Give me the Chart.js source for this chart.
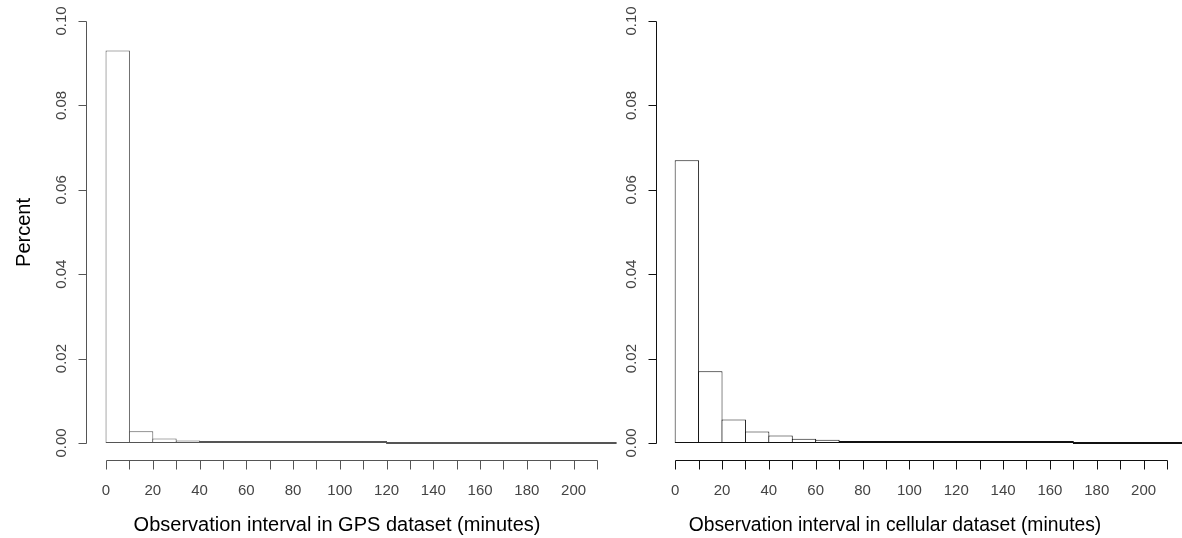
<!DOCTYPE html>
<html>
<head>
<meta charset="utf-8">
<script src="https://cdn.jsdelivr.net/npm/chart.js@4.4.0/dist/chart.umd.min.js"></script>
<style>
    body {
        margin: 0;
        width: 1182px;
        height: 538px;
        overflow: hidden;
        background: #ffffff;
        position: relative;
    }
    canvas {
        position: absolute;
        top: 0;
    }
</style>
</head>
<body>
<canvas id="gps_Chart" width="620" height="538" style="left:0px"></canvas>
<canvas id="cell_Chart" width="600" height="538" style="left:600px"></canvas>
<script>
// histogram bins, 10 minutes wide
var binStarts = [0, 10, 20, 30, 40, 50, 60, 70, 80, 90, 100, 110, 120, 130, 140, 150, 160, 170, 180, 190, 200, 210];
var binWidth = 10;

var gpsPercent = [0.093, 0.0028, 0.0011, 0.0006, 0.0004, 0.0004, 0.0001, 0.0001, 0.0001, 0.0001, 0.0001, 0.0001,
    0, 0, 0, 0, 0, 0, 0, 0, 0, 0];
var cellPercent = [0.067, 0.017, 0.0056, 0.0027, 0.0018, 0.001, 0.0008, 0.0004, 0.0004, 0.0003, 0.0001, 0.0001,
    0.0001, 0.0001, 0.0001, 0.0001, 0.0001, 0, 0, 0, 0, 0];

var xTickValues = [0, 10, 20, 30, 40, 50, 60, 70, 80, 90, 100, 110, 120, 130, 140, 150, 160, 170, 180, 190, 200, 210];
var xTickLabels = ['0', '', '20', '', '40', '', '60', '', '80', '', '100', '', '120', '', '140', '', '160', '', '180', '', '200', ''];
var yTickValues = [0, 0.02, 0.04, 0.06, 0.08, 0.10];
var yTickLabels = ['0.00', '0.02', '0.04', '0.06', '0.08', '0.10'];

var FONT = '"Liberation Sans", Arial, Helvetica, sans-serif';

function toPoints(values) {
    var points = [];
    values.forEach(function (v, i) {
        points.push({ x: binStarts[i] + binWidth / 2, y: v });
    });
    return points;
}

// base-R style axes: line only spans the ticks, labels turned on the y axis
const rAxesPlugin = {
    id: 'rAxes',
    afterDraw(chart, args, opts) {
        var ctx = chart.ctx;
        var xs = chart.scales.x;
        var ys = chart.scales.y;
        var area = chart.chartArea;
        ctx.save();
        ctx.strokeStyle = opts.stroke;
        ctx.lineWidth = 1;

        // y axis
        var ax = Math.round(area.left) + 0.5;
        var yTop = Math.round(ys.getPixelForValue(yTickValues[yTickValues.length - 1])) + 0.5;
        var yBot = Math.round(ys.getPixelForValue(yTickValues[0])) + 0.5;
        ctx.beginPath();
        ctx.moveTo(ax, yTop);
        ctx.lineTo(ax, yBot);
        yTickValues.forEach(function (v) {
            var py = Math.round(ys.getPixelForValue(v)) + 0.5;
            ctx.moveTo(ax - 8, py);
            ctx.lineTo(ax, py);
        });
        // x axis
        var by = Math.round(area.bottom) + 0.5;
        var xL = Math.round(xs.getPixelForValue(xTickValues[0])) + 0.5;
        var xR = Math.round(xs.getPixelForValue(xTickValues[xTickValues.length - 1])) + 0.5;
        ctx.moveTo(xL, by);
        ctx.lineTo(xR, by);
        xTickValues.forEach(function (v) {
            var px = Math.round(xs.getPixelForValue(v)) + 0.5;
            ctx.moveTo(px, by);
            ctx.lineTo(px, by + 9);
        });
        ctx.stroke();

        // tick labels
        ctx.fillStyle = opts.tickColor;
        ctx.font = opts.tickSize + 'px ' + FONT;
        ctx.textAlign = 'center';
        ctx.textBaseline = 'alphabetic';
        xTickValues.forEach(function (v, i) {
            if (xTickLabels[i] !== '') {
                ctx.fillText(xTickLabels[i], xs.getPixelForValue(v), by + 34);
            }
        });
        yTickValues.forEach(function (v, i) {
            ctx.save();
            ctx.translate(ax - 21, ys.getPixelForValue(v));
            ctx.rotate(-Math.PI / 2);
            ctx.fillText(yTickLabels[i], 0, 0);
            ctx.restore();
        });

        // axis titles
        ctx.fillStyle = '#000000';
        ctx.font = opts.titleSize + 'px ' + FONT;
        ctx.fillText(opts.xTitle, opts.xTitleX, 531);
        if (opts.yTitle) {
            ctx.save();
            ctx.translate(opts.yTitleX, (yTop + yBot) / 2);
            ctx.rotate(-Math.PI / 2);
            ctx.fillText(opts.yTitle, 0, 0);
            ctx.restore();
        }
        ctx.restore();
    }
};

function renderHistogram(canvasId, values, stroke, padding, axisOpts) {
    var ctx = document.getElementById(canvasId);
    return new Chart(ctx, {
        type: 'bar',
        data: {
            datasets: [{
                data: toPoints(values),
                backgroundColor: '#ffffff',
                borderColor: stroke,
                borderWidth: 1,
                borderSkipped: false,
                barPercentage: 1.043,
                categoryPercentage: 1,
                minBarLength: 2,
                clip: 0
            }]
        },
        options: {
            responsive: false,
            animation: false,
            events: [],
            layout: { padding: padding },
            scales: {
                x: { type: 'linear', min: -8.4, max: 218.4, offset: false, display: false },
                y: { type: 'linear', min: -0.004, max: 0.104, display: false }
            },
            plugins: {
                legend: { display: false },
                tooltip: { enabled: false },
                rAxes: axisOpts
            }
        },
        plugins: [rAxesPlugin]
    });
}

renderHistogram('gps_Chart', gpsPercent, '#555555',
    { left: 86.4, right: 3.4, top: 4.1, bottom: 78.1 },
    { stroke: '#555555', tickColor: '#444444', tickSize: 15, titleSize: 20,
      xTitle: 'Observation interval in GPS dataset (minutes)', xTitleX: 337, yTitle: 'Percent', yTitleX: 30 });

renderHistogram('cell_Chart', cellPercent, '#111111',
    { left: 55.5, right: 13.3, top: 4.1, bottom: 78.1 },
    { stroke: '#111111', tickColor: '#444444', tickSize: 15, titleSize: 19.3,
      xTitle: 'Observation interval in cellular dataset (minutes)', xTitleX: 295, yTitle: null });
</script>
</body>
</html>
